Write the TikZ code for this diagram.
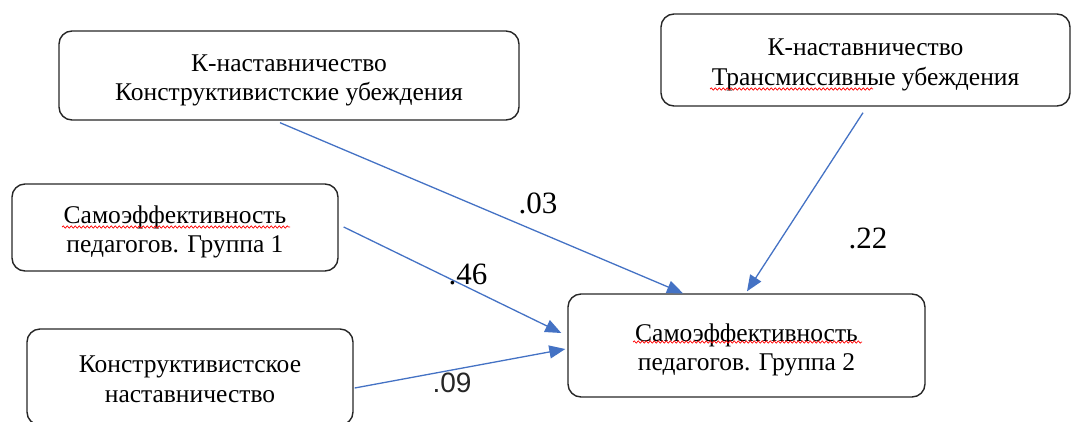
\documentclass[tikz,border=0pt]{standalone}
\usepackage{fontspec}
\setmainfont{Liberation Serif}
\newfontfamily\labsans{Liberation Sans}
\usetikzlibrary{arrows.meta,calc,decorations.pathmorphing}
\definecolor{arrblue}{HTML}{4472C4}
\definecolor{boxline}{HTML}{262626}
\tikzset{
  box/.style={draw=boxline, line width=1.4pt, rounded corners=13pt, rectangle,
    align=center, inner sep=0pt, text=black,
    font=\fontsize{25.5}{29.5}\selectfont,
    text height=56pt, text depth=6pt},
  arr/.style={draw=arrblue, line width=1.3pt, -{Triangle[length=16pt,width=13pt]}},
  coef/.style={font=\fontsize{31}{32}\selectfont, text=black, inner sep=0pt},
  coefsans/.style={font=\labsans\fontsize{28}{30}\selectfont, text=black!85, inner sep=0pt},
  spell/.style={draw=red, line width=0.7pt, decorate, decoration={snake, amplitude=1.1pt, segment length=4pt}}
}
\begin{document}
\begin{tikzpicture}[x=1pt,y=-1pt]
\useasboundingbox (0,0) rectangle (1073,421);
\node[box, minimum width=460pt, minimum height=89pt] (A) at (289,75.5)
  {К-наставничество\\Конструктивистские убеждения};
\node[box, minimum width=409pt, minimum height=92pt] (B) at (865.5,60)
  {К-наставничество\\Трансмиссивные убеждения};
\node[box, minimum width=326pt, minimum height=87pt] (C) at (175,227.5)
  {Самоэффективность\\педагогов. Группа 1};
\node[box, minimum width=326pt, minimum height=96pt] (D) at (190,377)
  {Конструктивистское\\наставничество};
\node[box, minimum width=357pt, minimum height=103pt] (E) at (746.5,345.5)
  {Самоэффективность\\педагогов. Группа 2};

\draw[arr] ([xshift=-9pt,yshift=-2pt]A.south) -- ([xshift=-63.5pt]E.north);
\draw[arr] ([xshift=-2.5pt,yshift=-6pt]B.south) -- ([xshift=0.5pt,yshift=2pt]E.north);
\draw[arr] ([xshift=5pt,yshift=0.5pt]C.east) -- ([xshift=-6pt,yshift=12.5pt]E.west);
\draw[arr] ([xshift=1pt,yshift=-11pt]D.east) -- ([xshift=-2pt,yshift=-3.5pt]E.west);

\node[coef] (l03) at (538,203) {.03};
\node[coef] (l22) at (868,238) {.22};
\node[coef] (l46) at (468,274) {.46};
\node[coefsans] (l09) at (452,383) {.09};

\draw[spell] (62,227) -- (290,227);
\draw[spell] (710,89) -- (873,89);
\draw[spell] (633,342) -- (862,342);
\end{tikzpicture}
\end{document}
